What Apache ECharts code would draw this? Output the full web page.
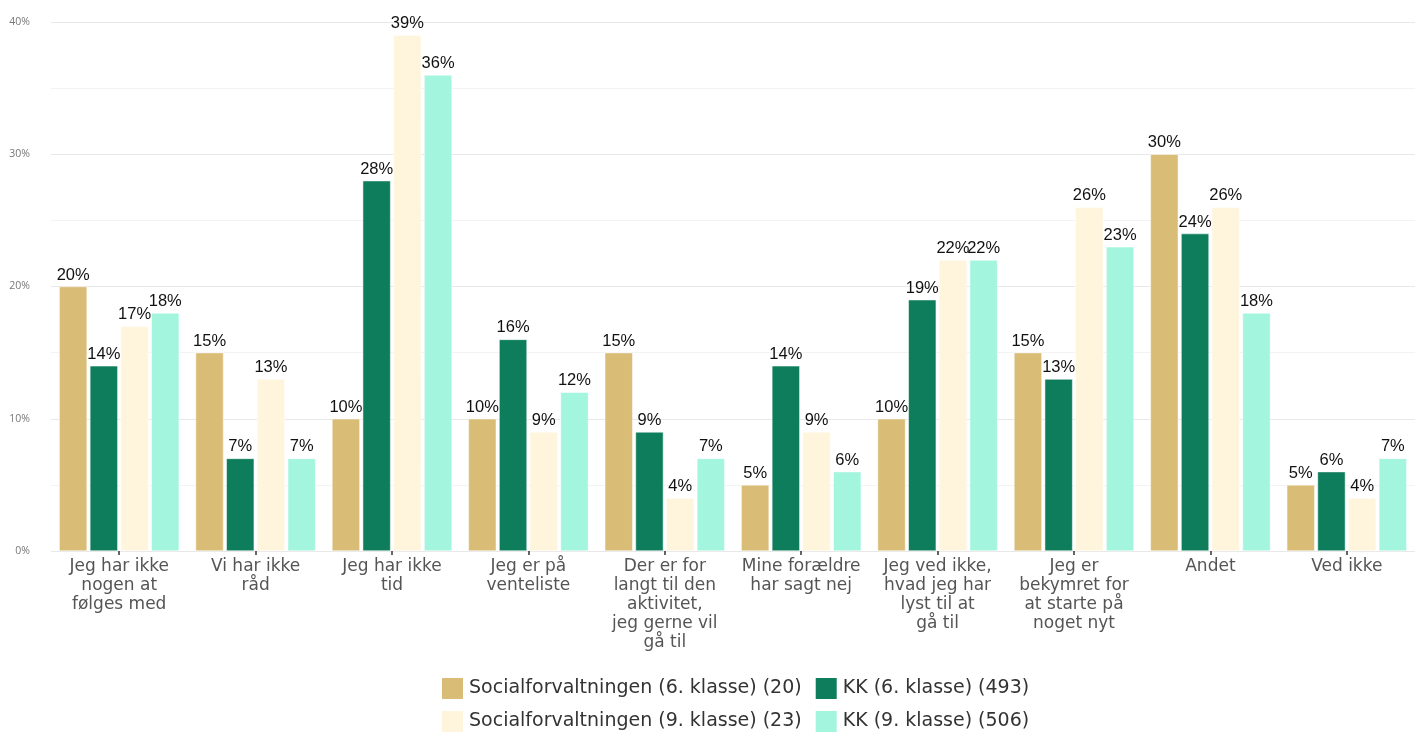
<!DOCTYPE html>
<html>
<head>
<meta charset="utf-8">
<script src="https://cdn.jsdelivr.net/npm/echarts@6/dist/echarts.min.js"></script>
<style>
  html, body { margin: 0; padding: 0; background: #fff; }
  #chart { width: 1418px; height: 733px; }
</style>
</head>
<body>
<div id="chart"></div>
<script>
// Reasons for not taking part in a leisure activity, share of answers (%)
const categories = [
  'Jeg har ikke\nnogen at\nfølges med',
  'Vi har ikke\nråd',
  'Jeg har ikke\ntid',
  'Jeg er på\nventeliste',
  'Der er for\nlangt til den\naktivitet,\njeg gerne vil\ngå til',
  'Mine forældre\nhar sagt nej',
  'Jeg ved ikke,\nhvad jeg har\nlyst til at\ngå til',
  'Jeg er\nbekymret for\nat starte på\nnoget nyt',
  'Andet',
  'Ved ikke'
];

const seriesNames = [
  'Socialforvaltningen (6. klasse) (20)',
  'KK (6. klasse) (493)',
  'Socialforvaltningen (9. klasse) (23)',
  'KK (9. klasse) (506)'
];

const socialf6 = [20, 15, 10, 10, 15, 5, 10, 15, 30, 5];
const kk6      = [14, 7, 28, 16, 9, 14, 19, 13, 24, 6];
const socialf9 = [17, 13, 39, 9, 4, 9, 22, 26, 26, 4];
const kk9      = [18, 7, 36, 12, 7, 6, 22, 23, 18, 7];

const colors = ['#D9BC75', '#0E7D5B', '#FFF5DC', '#A3F5DD'];

const valueSets = [socialf6, kk6, socialf9, kk9];

const chart = echarts.init(document.getElementById('chart'), null, { renderer: 'canvas' });

const legendText = { fontFamily: 'DejaVu Sans', fontSize: 19, color: '#333' };

chart.setOption({
  animation: false,
  color: colors,
  grid: { left: 51, right: 3, top: 22, bottom: 182, containLabel: false },
  legend: [
    {
      data: [seriesNames[0], seriesNames[1]],
      left: 440, top: 676, padding: 0, itemWidth: 23, itemHeight: 23, itemGap: 12,
      textStyle: legendText, icon: 'rect', selectedMode: false
    },
    {
      data: [seriesNames[2], seriesNames[3]],
      left: 440, top: 709, padding: 0, itemWidth: 23, itemHeight: 23, itemGap: 12,
      textStyle: legendText, icon: 'rect', selectedMode: false
    }
  ],
  xAxis: {
    type: 'category',
    data: categories,
    axisLine: { show: false },
    axisTick: { show: true, alignWithLabel: true, interval: 0, length: 4, lineStyle: { color: '#333', width: 1.5 } },
    axisLabel: {
      interval: 0, margin: 6, fontFamily: 'DejaVu Sans', fontSize: 17, lineHeight: 19,
      color: '#555', align: 'center'
    }
  },
  yAxis: {
    type: 'value',
    min: 0, max: 40, interval: 10,
    axisLabel: { formatter: '{value}%', fontFamily: 'Open Sans', fontSize: 10.5, color: '#777', margin: 21 },
    axisLine: { show: false },
    axisTick: { show: false },
    splitLine: { lineStyle: { color: '#e8e8e8', width: 1 } },
    minorTick: { show: false, splitNumber: 2 },
    minorSplitLine: { show: true, lineStyle: { color: '#f3f3f3', width: 1 } }
  },
  series: valueSets.map((vals, i) => ({
    name: seriesNames[i],
    type: 'bar',
    data: vals,
    barGap: '10%',
    barCategoryGap: '12%',
    itemStyle: { color: colors[i], borderColor: '#ffffff', borderWidth: 0.5 },
    label: {
      show: true, position: 'top', distance: 3,
      formatter: '{c}%', fontFamily: 'Liberation Sans', fontSize: 16.5, color: '#111'
    }
  }))
});
</script>
</body>
</html>
